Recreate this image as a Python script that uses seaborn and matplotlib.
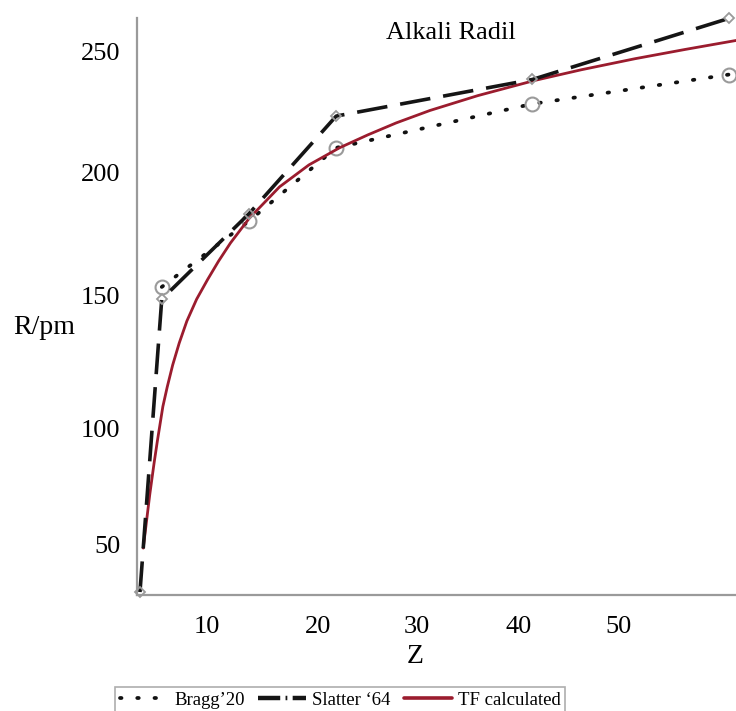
import numpy as np
import pandas as pd
import matplotlib
matplotlib.use("Agg")
import matplotlib.pyplot as plt
from matplotlib.lines import Line2D
import seaborn as sns

# ------------------------------------------------------------
# data (alkali radii, pm)
# ------------------------------------------------------------
bragg_z = [3, 11, 19, 37, 55]
bragg_r = [150, 177, 207, 225, 237]

slatter_z = [1, 3, 11, 19, 37, 55]
slatter_r = [25, 145, 180, 220, 235, 260]

tf_z = [1.3, 1.6, 1.9, 2.3, 2.6, 3.1, 3.5, 4.0, 4.6, 5.3, 6.2, 7.2, 8.2, 9.3,
        11.0, 13.8, 16.5, 19.3, 21.9, 24.5, 27.6, 32.0, 37.2, 41.5, 46.4, 51.0, 55.7]
tf_r = [43, 54, 65, 78, 87, 101, 109, 118, 127, 136, 145, 153, 160.5, 168,
        178, 191, 200, 207, 212.3, 217.2, 222.3, 228.4, 234.6, 239, 243.5, 247.3, 251]

# tick labels, placed where the reference prints them
x_tick_pos = [7.15, 17.3, 26.4, 35.7, 44.9]
x_tick_lab = ["10", "20", "30", "40", "50"]
y_tick_pos = [44.3, 91.8, 146.7, 196.7, 246.3]
y_tick_lab = ["50", "100", "150", "200", "250"]

bragg = pd.DataFrame({"Z": bragg_z, "R": bragg_r})
slatter = pd.DataFrame({"Z": slatter_z, "R": slatter_r})
tf = pd.DataFrame({"Z": tf_z, "R": tf_r})

sns.set_theme(style="white")
plt.rcParams["font.family"] = ["Liberation Serif", "DejaVu Serif"]
plt.rcParams["text.color"] = "black"
plt.rcParams["axes.labelcolor"] = "black"

RED = "#9b1c2e"
GREY = "#9a9a9a"
BRAGG_LS = (0, (0.4, 4.2))
SLATTER_LS = (0, (8.5, 3.6))

fig = plt.figure(figsize=(7.36, 7.11), dpi=100)
ax = fig.add_axes([0.1861, 0.1632, 0.8139, 0.8115])

sns.lineplot(data=bragg, x="Z", y="R", ax=ax, color="#111111", lw=2.7,
             linestyle=BRAGG_LS, dash_capstyle="round",
             marker="o", markersize=10, markerfacecolor="none",
             markeredgecolor=GREY, markeredgewidth=1.5, clip_on=False, zorder=3)
sns.lineplot(data=tf, x="Z", y="R", ax=ax, color=RED, lw=2.0, zorder=4)
sns.lineplot(data=slatter, x="Z", y="R", ax=ax, color="#151515", lw=2.6,
             linestyle=SLATTER_LS, marker="D", markersize=5.5,
             markerfacecolor="none", markeredgecolor=GREY,
             markeredgewidth=1.3, clip_on=False, zorder=5)

ax.set_xlim(0.725, 55.68)
ax.set_ylim(23.8, 260.2)

ax.set_xticks(x_tick_pos)
ax.set_xticklabels(x_tick_lab)
ax.set_yticks(y_tick_pos)
ax.set_yticklabels(y_tick_lab)
ax.tick_params(axis="both", length=0, labelsize=19, colors="black")
ax.tick_params(axis="y", pad=12)
ax.tick_params(axis="x", pad=15)

for side in ["top", "right"]:
    ax.spines[side].set_visible(False)
for side in ["left", "bottom"]:
    ax.spines[side].set_color(GREY)
    ax.spines[side].set_linewidth(1.6)

ax.set_xlabel("Z", fontsize=20, va="center")
ax.xaxis.set_label_coords(0.464, -0.107)
ax.set_ylabel("R/pm", fontsize=20, rotation=0, va="center", ha="center")
ax.yaxis.set_label_coords(-0.155, 0.464)

ax.text(0.524, 0.974, "Alkali Radil", transform=ax.transAxes,
        ha="center", va="center", fontsize=19)

handles = [
    Line2D([], [], color="#111111", lw=2.7, linestyle=BRAGG_LS, dash_capstyle="round"),
    Line2D([], [], color="#151515", lw=3.2, linestyle=(0, (5, 1.2, 0.4, 1.2))),
    Line2D([], [], color=RED, lw=2.6),
]
labels = ["Bragg\u201920", "Slatter \u201864", "TF calculated"]
leg = fig.legend(handles, labels, loc="upper left",
                 bbox_to_anchor=(115 / 736, 1 - 687 / 711), ncol=3,
                 fontsize=13.5, frameon=True, fancybox=False, edgecolor=GREY,
                 handlelength=2.6, handletextpad=0.3, columnspacing=0.7,
                 borderpad=0.25, borderaxespad=0)
leg.get_frame().set_linewidth(1.2)

fig.savefig("out.png", dpi=100)
